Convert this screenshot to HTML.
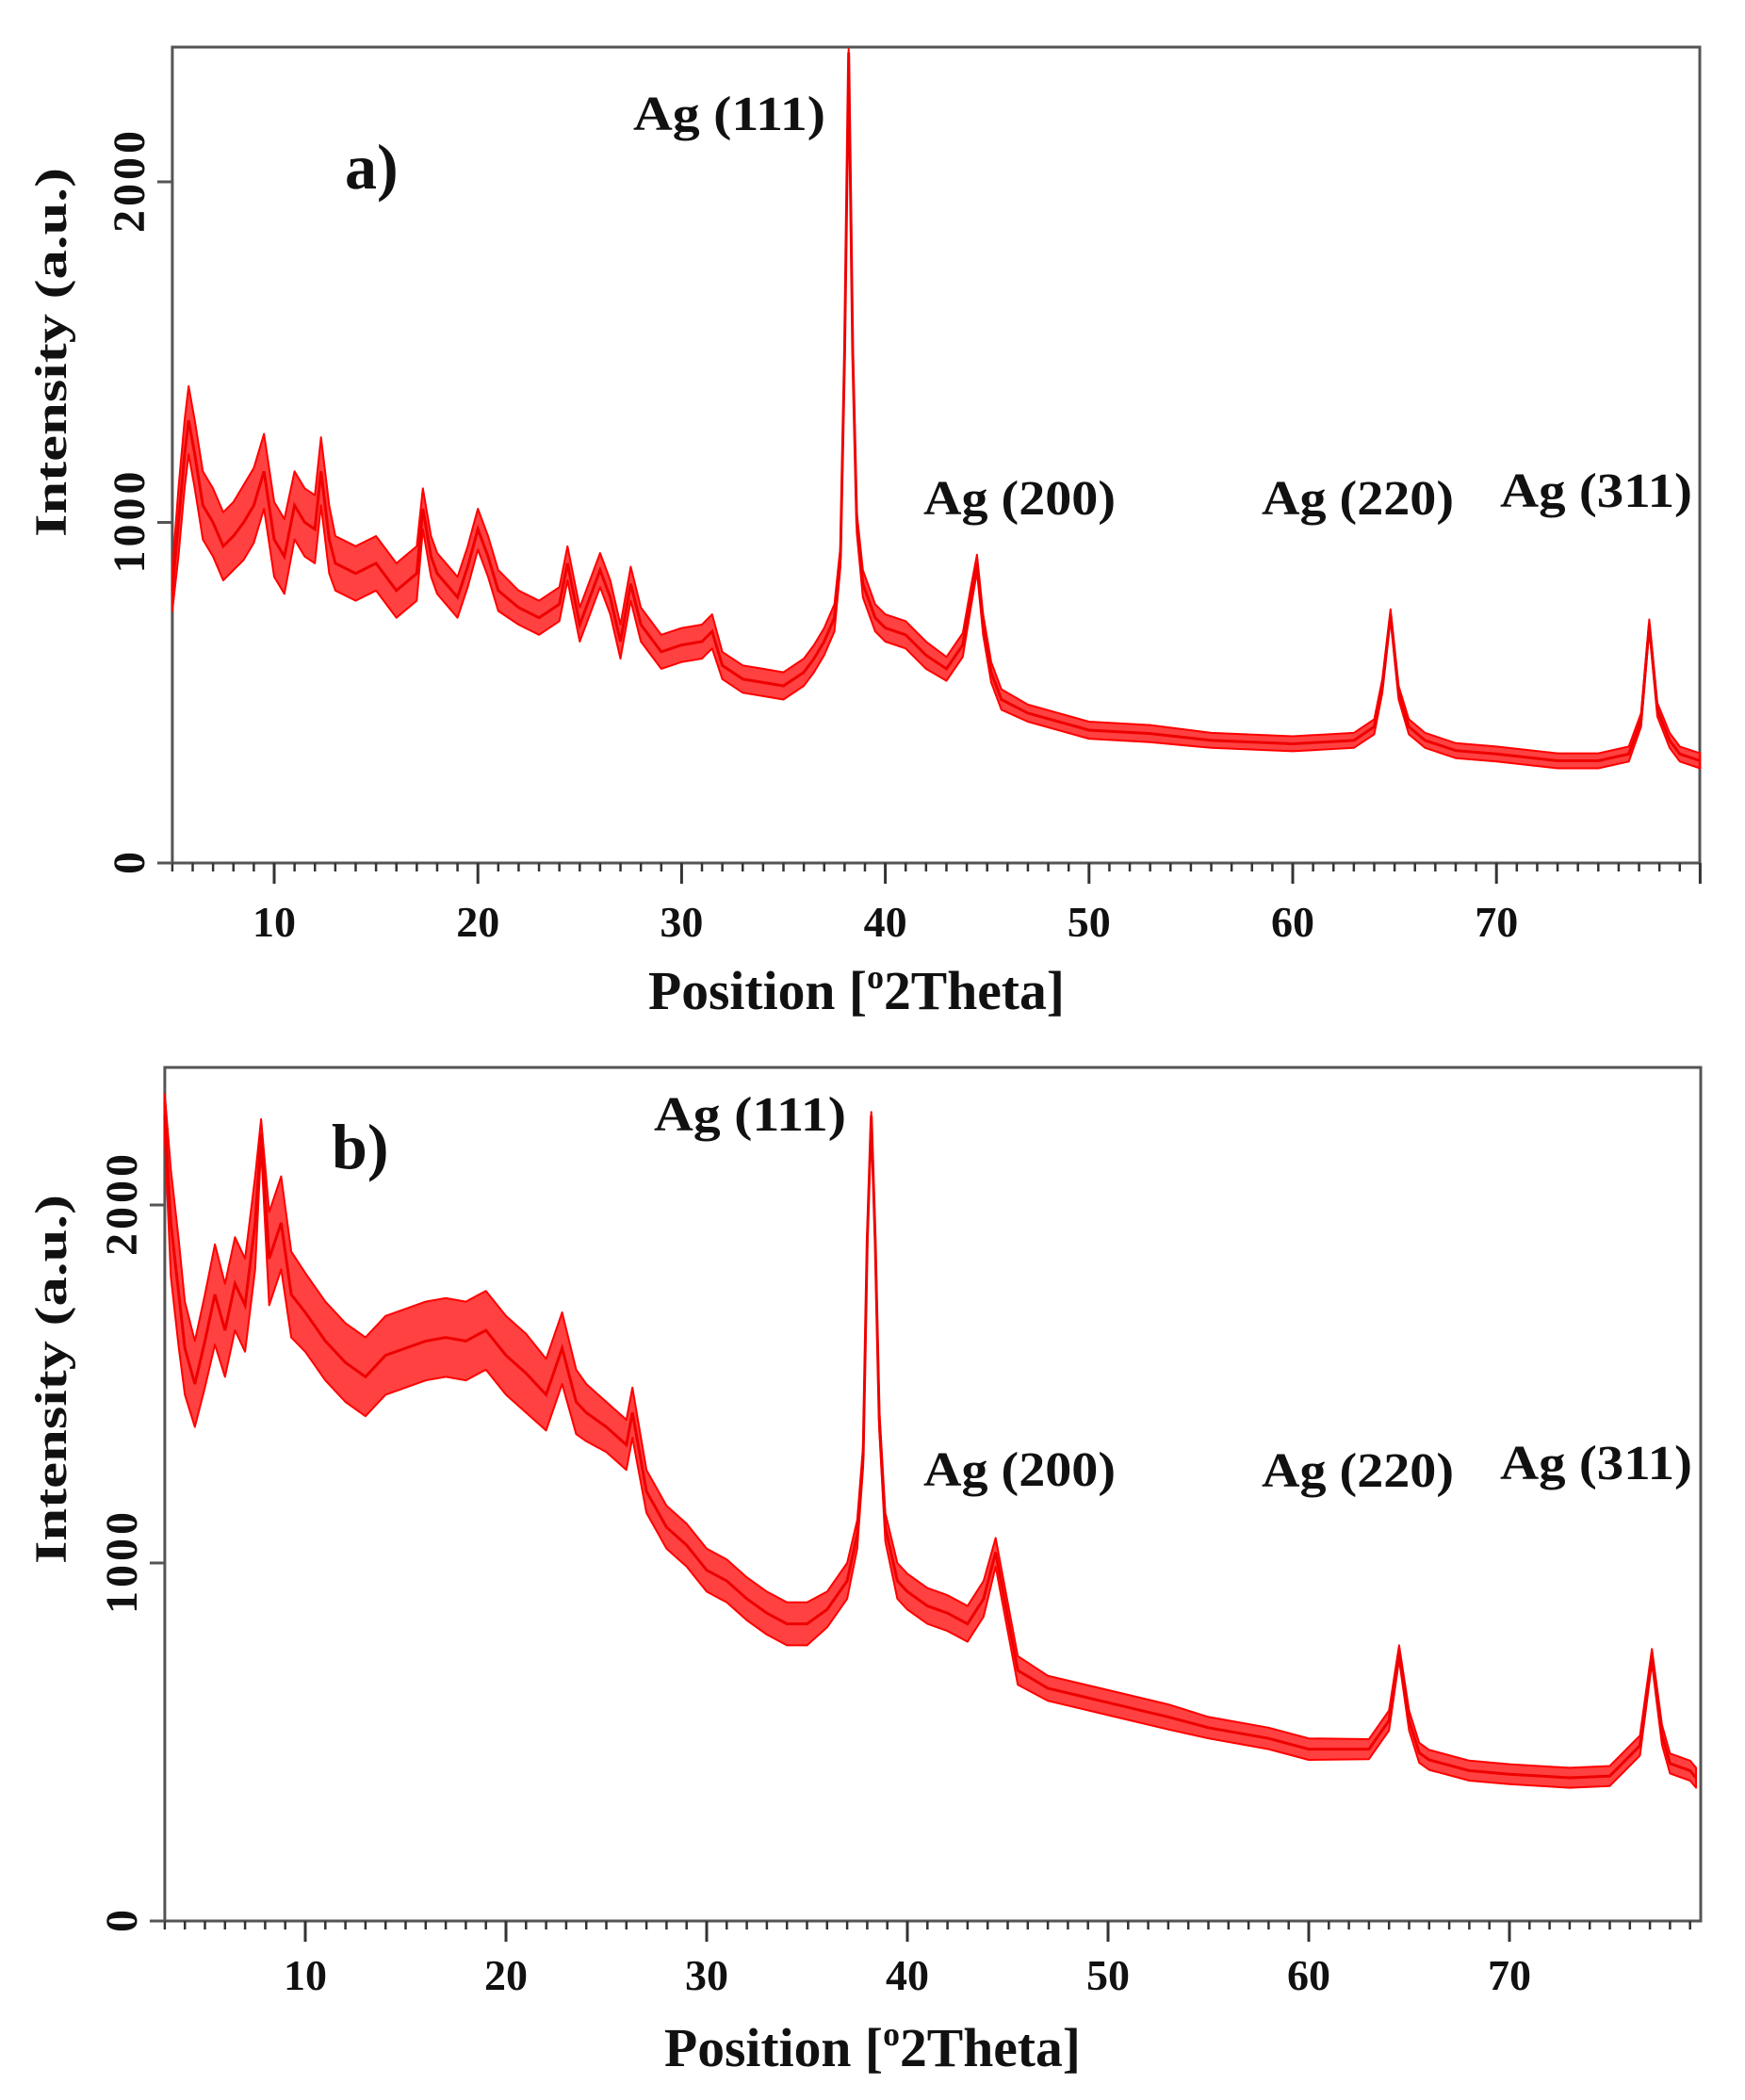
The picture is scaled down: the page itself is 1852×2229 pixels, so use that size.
<!DOCTYPE html>
<html><head><meta charset="utf-8"><style>
html,body{margin:0;padding:0;background:#fff}
svg{display:block}
text{font-family:"Liberation Serif",serif;font-weight:bold;fill:#111}
</style></head><body>
<svg id="chart" width="1852" height="2229" viewBox="0 0 1852 2229" xmlns="http://www.w3.org/2000/svg"></svg>
<script>
// Panel a data (2theta, intensity, noise half-band)
const aX = [5,5.3,5.6,5.8,6.1,6.5,7,7.5,8,8.5,9,9.5,10,10.5,11,11.5,12,12.3,12.7,13,14,15,16,17,17.3,17.7,18,19,19.5,20,20.5,21,22,23,24,24.4,25,26,26.5,27,27.5,28,29,30,31,31.5,32,33,34,35,36,36.5,37,37.5,37.8,38.0,38.2,38.4,38.6,38.9,39.5,40,41,42,43,43.8,44.2,44.5,44.8,45.2,45.7,47,50,53,56,60,63,64.0,64.4,64.8,65.2,65.7,66.5,68,70,73,75,76.5,77.1,77.5,77.9,78.5,79,80];
const aY = [800,1000,1200,1300,1200,1050,1000,930,960,1000,1050,1150,950,900,1050,1000,980,1150,950,880,850,880,800,850,1040,900,850,780,870,980,900,800,750,720,760,880,700,860,780,650,820,700,620,640,650,680,580,540,530,520,560,600,650,720,900,1500,2380,1500,1000,820,720,690,670,610,570,640,780,880,700,560,480,440,390,380,360,350,360,400,520,730,500,400,360,330,320,300,300,320,420,700,450,360,320,300];
const aAmp = [60,100,100,100,100,100,100,100,100,110,110,110,110,110,100,100,100,100,100,80,80,80,80,80,60,60,60,60,60,60,60,60,50,50,50,50,50,50,50,50,50,50,50,50,50,50,40,40,40,40,40,40,40,40,30,20,10,20,30,40,40,40,40,40,35,35,30,25,30,30,30,25,25,25,22,22,22,22,20,15,20,22,22,22,22,22,22,22,20,15,20,22,22,22];
// Panel b data
const bX = [3,3.3,3.7,4,4.5,5,5.5,6,6.5,7,7.5,7.8,8.2,8.8,9.3,10,11,12,13,14,15,16,17,18,19,20,21,22,22.8,23.5,24,25,26,26.3,27,28,29,30,31,32,33,34,35,36,37,37.5,37.8,38.0,38.2,38.4,38.6,38.9,39.5,40,41,42,43,43.8,44.4,45,45.5,47,50,53,55,58,60,63,64.0,64.5,65.0,65.5,66,68,70,73,75,76.5,77.1,77.6,78,79,79.3];
const bY = [2250,1950,1750,1600,1500,1620,1750,1650,1780,1720,1950,2200,1850,1950,1750,1700,1620,1560,1520,1580,1600,1620,1630,1620,1650,1580,1530,1470,1600,1450,1420,1380,1330,1420,1200,1100,1050,980,950,900,860,830,830,870,950,1080,1300,1900,2250,1900,1400,1100,950,920,880,860,830,900,1030,850,700,650,610,570,540,510,480,480,560,750,560,470,450,420,410,400,405,490,740,520,440,420,400];
const bAmp = [60,150,150,130,120,130,140,130,130,130,130,40,130,130,120,110,110,110,110,110,110,110,110,110,110,110,110,100,100,90,80,70,70,70,60,60,60,60,60,60,60,60,60,50,50,40,30,20,10,20,30,40,50,50,50,50,50,50,40,40,40,35,35,35,30,30,30,28,28,20,28,28,28,28,28,28,28,28,20,28,28,28,28];
const xTicks = [10,20,30,40,50,60,70];
const yTicks = [0,1000,2000];
const peakLabels = ["Ag (111)","Ag (200)","Ag (220)","Ag (311)"];

const svg = document.getElementById('chart');
const NS = 'http://www.w3.org/2000/svg';
function mk(tag, attrs, parent){const e=document.createElementNS(NS,tag);for(const k in attrs)e.setAttribute(k,attrs[k]);(parent||svg).appendChild(e);return e;}

function panel(cfg){
  const g = mk('g',{});
  
  
  const sx = v => cfg.x10 + (v-10)*cfg.pxDeg;
  const sy = v => cfg.y0 - v*cfg.pxUnit;
  const L = sx(cfg.xmin), R = cfg.right;
  // frame
  const frame = mk('rect',{x:L,y:cfg.top,width:R-L,height:cfg.y0-cfg.top,fill:'none',stroke:'#555','stroke-width':3},g);
  
  
  // envelope band
  let up=[],dn=[];
  for(let i=0;i<cfg.X.length;i++){up.push(sx(cfg.X[i]).toFixed(1)+','+sy(cfg.Y[i]+cfg.A[i]).toFixed(1));dn.push(sx(cfg.X[i]).toFixed(1)+','+sy(Math.max(0,cfg.Y[i]-cfg.A[i])).toFixed(1));}
  const band = mk('polygon',{points:up.concat(dn.reverse()).join(' '),fill:'#ff2020','fill-opacity':0.85,stroke:'#ff0000','stroke-width':2,'stroke-linejoin':'round'},g);
  
  
  const line = mk('polyline',{points:cfg.X.map((x,i)=>sx(x).toFixed(1)+','+sy(cfg.Y[i]).toFixed(1)).join(' '),fill:'none',stroke:'#ee0000','stroke-width':3},g);
  
  
  // x ticks
  for(let v=Math.ceil(cfg.xmin);v<=cfg.xmax;v++){
    const major = v%10===0;
    const t = mk('line',{x1:sx(v),x2:sx(v),y1:cfg.y0,y2:cfg.y0+(major?22:9),stroke:'#333','stroke-width':major?3:2.5},g);
    
    
  }
  xTicks.forEach(v=>{
    const t = mk('text',{x:sx(v),y:cfg.tickBase,'text-anchor':'middle','font-size':46},g);
    t.textContent = v;
    
    
  });
  yTicks.forEach(v=>{
    const tk = mk('line',{x1:L-16,x2:L,y1:sy(v),y2:sy(v),stroke:'#555','stroke-width':3},g);
    
    
    const t = mk('text',{x:0,y:0,'text-anchor':'middle','font-size':48,transform:`translate(${L-30},${sy(v)}) rotate(-90)`},g);
    if(String(v).length>1) t.setAttribute('textLength', 108);
    t.textContent = v;
    
    
  });
  // titles
  const yt = mk('text',{x:0,y:0,'text-anchor':'middle','font-size':48,textLength:392,lengthAdjust:'spacingAndGlyphs',transform:`translate(70,${cfg.ytCenter}) rotate(-90)`},g);
  yt.textContent='Intensity (a.u.)';
  
  
  const xt = mk('text',{x:cfg.xtLeft,y:cfg.xtBase,'font-size':58,textLength:442,lengthAdjust:'spacingAndGlyphs'},g);
  xt.innerHTML='Position [<tspan dy="-22" font-size="36">o</tspan><tspan dy="22">2Theta]</tspan>';
  
  
  const pl = mk('text',{x:cfg.letter[0],y:cfg.letter[1],'font-size':68},g);
  pl.textContent=cfg.letterText;
  
  
  cfg.labels.forEach((p,i)=>{
    const t = mk('text',{x:p[0],y:p[1],'font-size':52,textLength:204,lengthAdjust:'spacingAndGlyphs'},g);
    t.textContent=peakLabels[i];
    
    
  });
}

panel({name:'panel-a',X:aX,Y:aY,A:aA(),xmin:5,xmax:80,x10:291,pxDeg:21.62,right:1804,top:50,y0:916,pxUnit:0.3615,
  tickBase:994,ytCenter:374,xtLeft:688,xtBase:1071,letter:[366,200],letterText:'a)',
  labels:[[672,138],[980,546],[1339,546],[1592,538]]});
panel({name:'panel-b',X:bX,Y:bY,A:bAmp,xmin:3,xmax:79.3,x10:324,pxDeg:21.3,right:1805,top:1133,y0:2039,pxUnit:0.380,
  tickBase:2112,ytCenter:1464,xtLeft:705,xtBase:2193,letter:[352,1240],letterText:'b)',
  labels:[[694,1200],[980,1577],[1339,1578],[1592,1570]]});
function aA(){return aAmp;}
</script>
</body></html>
